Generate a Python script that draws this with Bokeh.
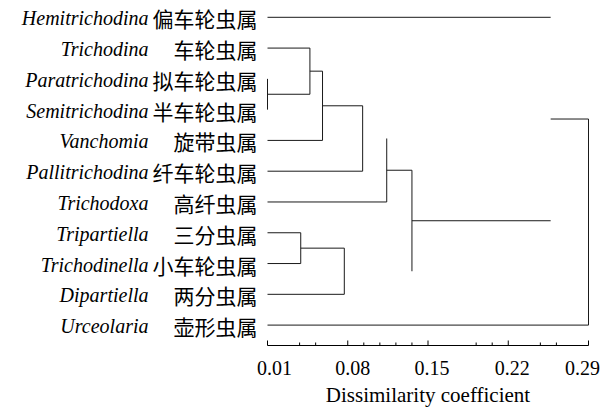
from bokeh.plotting import figure
from bokeh.models import Range1d
from bokeh.core.properties import value
from bokeh.embed import file_html
from bokeh.resources import INLINE

# ---------------- data ----------------
leaf_latin = ["Hemitrichodina", "Trichodina", "Paratrichodina", "Semitrichodina",
              "Vanchomia", "Pallitrichodina", "Trichodoxa", "Tripartiella",
              "Trichodinella", "Dipartiella", "Urceolaria"]
leaf_chinese = ["偏车轮虫属", "车轮虫属", "拟车轮虫属", "半车轮虫属",
                "旋带虫属", "纤车轮虫属", "高纤虫属", "三分虫属",
                "小车轮虫属", "两分虫属", "壶形虫属"]
leaf_level = 0.01
# merges: node id = number of leaves + merge index
merge_left = [2, 1, 12, 13, 14, 7, 16, 15, 0, 19]
merge_right = [3, 11, 4, 5, 6, 8, 9, 17, 18, 10]
merge_height = [0.010, 0.047, 0.058, 0.093, 0.114, 0.039, 0.077, 0.136, 0.257, 0.290]
unlinked_nodes = [14, 17]     # nodes whose link to the parent is not drawn
open_merges = [19]            # merges drawn without their vertical bar
tick_values = [0.01, 0.08, 0.15, 0.22, 0.29]
tick_labels = ["0.01", "0.08", "0.15", "0.22", "0.29"]
minor_tick_values = [0.038, 0.052, 0.094, 0.108, 0.122, 0.136, 0.192, 0.206, 0.248, 0.262]
axis_title = "Dissimilarity coefficient"

# ---------------- layout (pixels) ----------------
W, H = 605, 410
X0_PX, X1_PX = 267, 588          # where the axis starts / ends
AXIS_PX = 345                    # axis line
ROW0_PX, ROW_STEP = 16.8, 30.78  # first leaf row, spacing
LABEL_DX = [7, 5, 4, 4, -6]      # tick label nudges
MAJOR_TICK_PX, MINOR_TICK_PX = 5, 3
ax_lo, ax_hi = tick_values[0], tick_values[-1]
scale = (X1_PX - X0_PX) / (ax_hi - ax_lo)

x_range = Range1d(ax_lo - X0_PX / scale, ax_hi + (W - X1_PX) / scale)
y_range = Range1d((H - ROW0_PX) / ROW_STEP, -ROW0_PX / ROW_STEP)
axis_loc = (AXIS_PX - ROW0_PX) / ROW_STEP

p = figure(width=W, height=H, x_range=x_range, y_range=y_range,
           output_backend="svg", toolbar_location=None,
           x_axis_location=None, y_axis_location=None,
           min_border_left=0, min_border_right=0, min_border_top=0,
           min_border_bottom=0, outline_line_color=None)
p.xgrid.visible = False
p.ygrid.visible = False

# ---------------- dendrogram geometry ----------------
n = len(leaf_latin)
node_y = {i: float(i) for i in range(n)}
node_h = {i: leaf_level for i in range(n)}
x0s, y0s, x1s, y1s = [], [], [], []
for k, (a, b, h) in enumerate(zip(merge_left, merge_right, merge_height)):
    node = n + k
    node_y[node] = (node_y[a] + node_y[b]) / 2
    node_h[node] = h
    if node not in open_merges:
        x0s.append(h); y0s.append(node_y[a]); x1s.append(h); y1s.append(node_y[b])
    for c in (a, b):
        if c not in unlinked_nodes:
            x0s.append(node_h[c]); y0s.append(node_y[c]); x1s.append(h); y1s.append(node_y[c])

p.segment(x0=x0s, y0=y0s, x1=x1s, y1=y1s, line_color="#1a1a1a", line_width=1)

# ---------------- leaf labels ----------------
ys = [float(i) for i in range(n)]
xs = [leaf_level] * n
p.text(x=xs, y=ys, text=leaf_chinese, text_font=value("Noto Sans CJK SC"),
       text_font_size="21px", text_align="right", text_baseline="middle",
       x_offset=-10, y_offset=1, text_color="black")
p.text(x=xs, y=ys, text=leaf_latin, text_font=value("Liberation Serif"),
       text_font_style="italic", text_font_size="20px", text_align="right",
       text_baseline="middle", x_offset=-119, y_offset=1, text_color="black")

# ---------------- axis (line, ticks, labels) ----------------
major_top = axis_loc - MAJOR_TICK_PX / ROW_STEP
minor_top = axis_loc - MINOR_TICK_PX / ROW_STEP
p.segment(x0=[ax_lo], y0=[axis_loc], x1=[ax_hi], y1=[axis_loc],
          line_color="black", line_width=1)
p.segment(x0=tick_values, y0=[axis_loc] * len(tick_values),
          x1=tick_values, y1=[major_top] * len(tick_values),
          line_color="black", line_width=1)
p.segment(x0=minor_tick_values, y0=[axis_loc] * len(minor_tick_values),
          x1=minor_tick_values, y1=[minor_top] * len(minor_tick_values),
          line_color="black", line_width=1)

p.text(x=tick_values, y=[axis_loc] * len(tick_values), text=tick_labels,
       text_font=value("Liberation Serif"), text_font_size="20px",
       text_align="center", text_baseline="middle",
       x_offset=LABEL_DX, y_offset=22, text_color="black")
p.text(x=[(ax_lo + ax_hi) / 2], y=[axis_loc], text=[axis_title],
       text_font=value("Liberation Serif"), text_font_size="21px",
       text_align="center", text_baseline="middle",
       x_offset=0, y_offset=49, text_color="black")

open("out.html", "w").write(file_html(p, INLINE))
